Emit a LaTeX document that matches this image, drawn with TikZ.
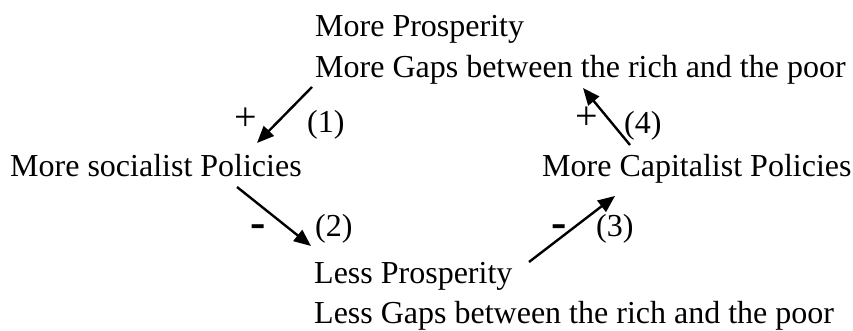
\documentclass[tikz,border=0pt]{standalone}
\usepackage{fontspec}
\setmainfont{Liberation Serif}
\usetikzlibrary{arrows.meta,positioning}

\begin{document}
\begin{tikzpicture}[x=1pt, y=-1pt,
    txt/.style={anchor=base west, inner sep=0pt,
                font=\fontsize{32}{38}\selectfont},
    num/.style={anchor=base west, inner sep=0pt,
                font=\fontsize{32}{38}\selectfont},
    pls/.style={inner sep=0pt, font=\fontsize{40}{40}\selectfont},
    mns/.style={inner sep=0pt, font=\fontsize{46}{46}\selectfont\bfseries},
    arr/.style={-{Triangle[length=17pt,width=14pt]}, line width=2.4pt}
  ]
    \useasboundingbox (0,0) rectangle (853,331);
    % Top
    \node[txt](moreprosp)  at (315,37)  {More Prosperity};
    \node[txt](moregaps)   at (315,78)  {More Gaps between the rich and the poor};
    % Sides
    \node[txt](socialist)  at (10,177)  {More socialist Policies};
    \node[txt](capitalist) at (542,177) {More Capitalist Policies};
    % Bottom
    \node[txt](lessprosp)  at (314,283) {Less Prosperity};
    \node[txt](lessgaps)   at (314,323) {Less Gaps between the rich and the poor};

    \draw[arr]([xshift=-3pt,yshift=-9pt]moregaps.base west)
        -- ([xshift=247pt,yshift=34pt]socialist.base west);
    \draw[arr]([xshift=227pt,yshift=-10pt]socialist.base west)
        -- ([xshift=-3pt,yshift=37pt]lessprosp.base west);
    \draw[arr]([xshift=215pt,yshift=21pt]lessprosp.base west)
        -- ([xshift=73pt,yshift=-19pt]capitalist.base west);
    \draw[arr]([xshift=88pt,yshift=32pt]capitalist.base west)
        -- ([xshift=268pt,yshift=-10pt]moregaps.base west);

    \node[pls](plus1)  at (246,119) {+};
    \node[num](lbl1)   at (307,133) {(1)};
    \node[mns](minus2) at (258,231) {-};
    \node[num](lbl2)   at (315,236) {(2)};
    \node[mns](minus3) at (559,231) {-};
    \node[num](lbl3)   at (596,236) {(3)};
    \node[pls](plus4)  at (587,118) {+};
    \node[num](lbl4)   at (624,134) {(4)};
  \end{tikzpicture}
\end{document}
